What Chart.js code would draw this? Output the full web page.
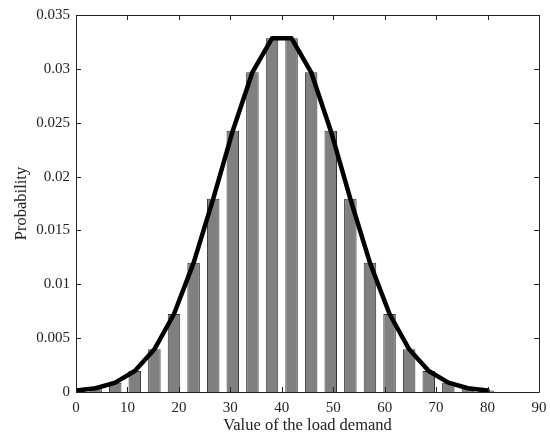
<!DOCTYPE html>
<html>
<head>
<meta charset="utf-8">
<script src="https://cdn.jsdelivr.net/npm/chart.js@4/dist/chart.umd.min.js"></script>
<style>
  html, body { margin: 0; padding: 0; background: #fff; }
  #wrap { width: 550px; height: 436px; }
</style>
</head>
<body>
<div id="wrap"><canvas id="c" width="550" height="436"></canvas></div>
<script>
// Bin centres of the load demand
const loadValues = [0, 3.81, 7.62, 11.43, 15.24, 19.05, 22.86, 26.67, 30.48, 34.29, 38.10,
                    41.90, 45.71, 49.52, 53.33, 57.14, 60.95, 64.76, 68.57, 72.38, 76.19, 80.00];
// Probability of each bin (bars)
const barProbabilities = [0.00013, 0.00035, 0.00087, 0.00195, 0.00396, 0.00724, 0.01199, 0.01793,
                          0.02426, 0.02968, 0.03283, 0.03283, 0.02968, 0.02426, 0.01793, 0.01199,
                          0.00724, 0.00396, 0.00195, 0.00087, 0.00035, 0.00013];
// Fitted curve (line) through the same points
const curveProbabilities = [0.00013, 0.00035, 0.00087, 0.00195, 0.00396, 0.00724, 0.01199, 0.01793,
                            0.02426, 0.02968, 0.03283, 0.03283, 0.02968, 0.02426, 0.01793, 0.01199,
                            0.00724, 0.00396, 0.00195, 0.00087, 0.00035, 0.00013];
const xTickLabels = ['0', '10', '20', '30', '40', '50', '60', '70', '80', '90'];
const yTickLabels = ['0', '0.005', '0.01', '0.015', '0.02', '0.025', '0.03', '0.035'];

const FONT = "'Liberation Serif', 'Times New Roman', serif";
const INK = '#222';

const boxTicks = {
  id: 'boxTicks',
  afterDatasetsDraw(chart) {
    const { ctx, chartArea: a, scales: { x, y } } = chart;
    ctx.save();
    ctx.strokeStyle = INK;
    ctx.lineWidth = 1;
    ctx.beginPath();
    ctx.rect(Math.round(a.left) + 0.5, Math.round(a.top) + 0.5,
             Math.round(a.right - a.left), Math.round(a.bottom - a.top));
    ctx.stroke();
    const L = 5;
    ctx.beginPath();
    x.ticks.forEach(t => {
      const px = Math.round(x.getPixelForValue(t.value)) + 0.5;
      ctx.moveTo(px, a.bottom); ctx.lineTo(px, a.bottom - L);
      ctx.moveTo(px, a.top); ctx.lineTo(px, a.top + L);
    });
    y.ticks.forEach(t => {
      const py = Math.round(y.getPixelForValue(t.value)) + 0.5;
      ctx.moveTo(a.left, py); ctx.lineTo(a.left + L, py);
      ctx.moveTo(a.right, py); ctx.lineTo(a.right - L, py);
    });
    ctx.stroke();
    ctx.restore();
  }
};

new Chart(document.getElementById('c'), {
  type: 'bar',
  data: {
    datasets: [
      {
        type: 'line',
        data: loadValues.map((v, i) => ({ x: v, y: curveProbabilities[i] })),
        borderColor: '#000',
        borderWidth: 4.5,
        pointRadius: 0,
        tension: 0,
        fill: false,
        borderJoinStyle: 'round',
        borderCapStyle: 'round',
        order: 0
      },
      {
        type: 'bar',
        data: loadValues.map((v, i) => ({ x: v, y: barProbabilities[i] })),
        backgroundColor: '#808080',
        borderColor: '#333',
        borderWidth: 1,
        borderSkipped: 'bottom',
        barPercentage: 0.64,
        categoryPercentage: 1,
        order: 1
      }
    ]
  },
  options: {
    responsive: false,
    animation: false,
    devicePixelRatio: 1,
    layout: { padding: { left: 0, right: 11, top: 15, bottom: 0 } },
    plugins: { legend: { display: false }, tooltip: { enabled: false } },
    scales: {
      x: {
        type: 'linear',
        min: 0, max: 90,
        offset: false,
        grid: { display: false, drawTicks: false, tickLength: 0 },
        border: { display: false },
        ticks: {
          stepSize: 10,
          padding: 7,
          color: INK,
          font: { family: FONT, size: 15 },
          maxRotation: 0,
          callback: (v) => xTickLabels[Math.round(v / 10)]
        },
        title: {
          display: true,
          text: 'Value of the load demand',
          color: INK,
          font: { family: FONT, size: 16.5 },
          padding: { top: 0, bottom: 0 }
        },
        afterFit: (s) => { s.height = 44; s.paddingRight = 0; s.paddingLeft = 0; }
      },
      y: {
        min: 0, max: 0.035,
        grid: { display: false, drawTicks: false, tickLength: 0 },
        border: { display: false },
        ticks: {
          stepSize: 0.005,
          padding: 6,
          color: INK,
          font: { family: FONT, size: 15 },
          callback: (v) => yTickLabels[Math.round(v / 0.005)]
        },
        title: {
          display: true,
          text: 'Probability',
          color: INK,
          font: { family: FONT, size: 16.5 },
          padding: { top: 12, bottom: 0 }
        },
        afterFit: (s) => { s.width = 76; s.paddingTop = 0; s.paddingBottom = 0; }
      }
    }
  },
  plugins: [boxTicks]
});
</script>
</body>
</html>
